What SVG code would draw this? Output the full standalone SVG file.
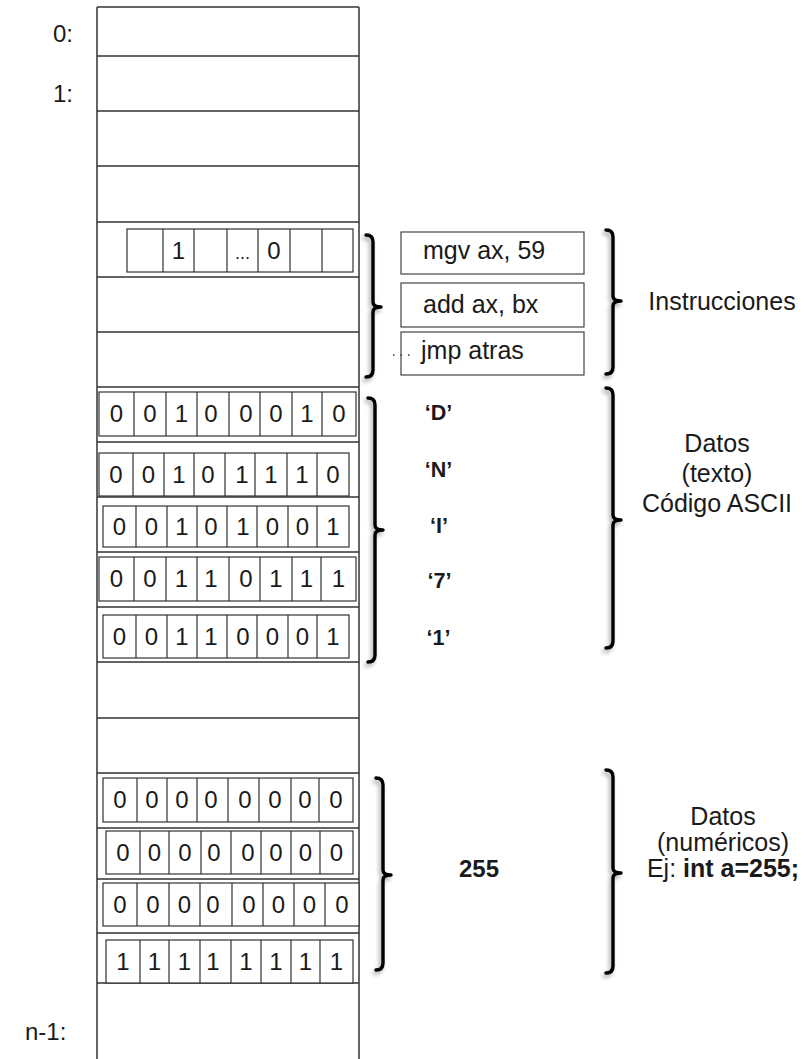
<svg xmlns="http://www.w3.org/2000/svg" width="804" height="1059" viewBox="0 0 804 1059">
<defs>
<style>
.col{stroke:#333;stroke-width:1.5;fill:none}
.cell{stroke:#333;stroke-width:1.2;fill:#fff}
.ibox{stroke:#444;stroke-width:1.2;fill:#fff}
.t{font-family:"Liberation Sans",Arial,Helvetica,sans-serif;fill:#1a1a1a}
.d{font-size:24px;text-anchor:middle}
.lbl{font-size:25px;text-anchor:middle}
.adr{font-size:24px;text-anchor:end}
.q{font-size:21.5px;font-weight:bold;text-anchor:middle}
.br{stroke:#000;stroke-width:3.4;fill:none;stroke-linecap:round;stroke-linejoin:round;filter:url(#sh)}
</style>
<filter id="sh" x="-100%" y="-10%" width="300%" height="120%">
<feDropShadow dx="-2" dy="3" stdDeviation="2" flood-color="#000" flood-opacity="0.35"/>
</filter>
</defs>
<rect width="804" height="1059" fill="#fff"/>

<g id="memory-column">
<line class="col" x1="97" y1="7" x2="359" y2="7"/>
<line class="col" x1="97" y1="7" x2="97" y2="1059"/>
<line class="col" x1="359" y1="7" x2="359" y2="1059"/>
<path class="col" d="M97,56H359M97,111H359M97,166H359M97,222H359M97,277H359M97,332H359M97,387H359M97,442H359M97,497H359M97,552H359M97,607H359M97,662H359M97,718H359M97,773H359M97,828H359M97,879H359M97,933H359M97,983H359"/>
</g>

<g id="addresses" class="t">
<text class="adr" x="73" y="42">0:</text>
<text class="adr" x="73" y="102">1:</text>
<text x="25" y="1040" style="font-size:24px">n-1:</text>
</g>

<g id="instr-bits">
<rect class="cell" x="127" y="229" width="226" height="43"/>
<path class="cell" d="M163,229V272M194,229V272M227,229V272M258,229V272M290,229V272M322,229V272"/>
<g class="t d"><text x="178.5" y="259">1</text><text x="242.5" y="259" style="font-size:18px">...</text><text x="274" y="259">0</text></g>
</g>

<g id="instr-mov">
<rect class="ibox" x="401" y="232" width="183" height="42"/>
<text class="t" x="423" y="259" style="font-size:25px">mgv ax, 59</text>
</g>
<g id="instr-add">
<rect class="ibox" x="401" y="283" width="183" height="44"/>
<text class="t" x="423" y="313" style="font-size:25px">add ax, bx</text>
</g>
<g id="instr-jmp">
<rect class="ibox" x="401" y="332" width="183" height="43"/>
<line x1="393" y1="355" x2="412" y2="355" stroke="#333" stroke-width="1.5" stroke-dasharray="1.5 6"/>
<text class="t" x="421" y="359" style="font-size:25px">jmp atras</text>
</g>

<g id="row-D">
<rect class="cell" x="99" y="392" width="257" height="44"/>
<path class="cell" d="M134,392V436M166,392V436M197,392V436M229,392V436M260,392V436M292,392V436M322,392V436"/>
<g class="t d"><text x="116.5" y="422">0</text><text x="150" y="422">0</text><text x="181.5" y="422">1</text><text x="211" y="422">0</text><text x="246" y="422">0</text><text x="276" y="422">0</text><text x="307" y="422">1</text><text x="339" y="422">0</text></g>
</g>
<g id="row-N">
<rect class="cell" x="99" y="453" width="250" height="43"/>
<path class="cell" d="M133,453V496M164,453V496M194,453V496M225,453V496M255,453V496M287,453V496M317,453V496"/>
<g class="t d"><text x="116" y="483">0</text><text x="148.5" y="483">0</text><text x="179" y="483">1</text><text x="208" y="483">0</text><text x="242" y="483">1</text><text x="271" y="483">1</text><text x="302" y="483">1</text><text x="333" y="483">0</text></g>
</g>
<g id="row-I">
<rect class="cell" x="103" y="506" width="246" height="41"/>
<path class="cell" d="M136,506V547M167,506V547M197,506V547M227,506V547M257,506V547M288,506V547M317,506V547"/>
<g class="t d"><text x="119.5" y="535">0</text><text x="151.5" y="535">0</text><text x="182" y="535">1</text><text x="211" y="535">0</text><text x="243" y="535">1</text><text x="272.5" y="535">0</text><text x="302.5" y="535">0</text><text x="333" y="535">1</text></g>
</g>
<g id="row-7">
<rect class="cell" x="99" y="557" width="257" height="44"/>
<path class="cell" d="M134,557V601M166,557V601M197,557V601M229,557V601M260,557V601M292,557V601M321,557V601"/>
<g class="t d"><text x="116.5" y="587">0</text><text x="150" y="587">0</text><text x="181.5" y="587">1</text><text x="211" y="587">1</text><text x="246" y="587">0</text><text x="276" y="587">1</text><text x="306.5" y="587">1</text><text x="338.5" y="587">1</text></g>
</g>
<g id="row-1">
<rect class="cell" x="103" y="615" width="246" height="43"/>
<path class="cell" d="M136,615V658M167,615V658M197,615V658M227,615V658M257,615V658M288,615V658M317,615V658"/>
<g class="t d"><text x="119.5" y="645">0</text><text x="151.5" y="645">0</text><text x="182" y="645">1</text><text x="211" y="645">1</text><text x="243" y="645">0</text><text x="272.5" y="645">0</text><text x="302.5" y="645">0</text><text x="333" y="645">1</text></g>
</g>

<g id="row-a">
<rect class="cell" x="103" y="778" width="250" height="44"/>
<path class="cell" d="M137,778V822M167,778V822M197,778V822M228,778V822M259,778V822M291,778V822M319,778V822"/>
<g class="t d"><text x="120" y="808">0</text><text x="152" y="808">0</text><text x="182" y="808">0</text><text x="211" y="808">0</text><text x="245" y="808">0</text><text x="275" y="808">0</text><text x="305" y="808">0</text><text x="336" y="808">0</text></g>
</g>
<g id="row-b">
<rect class="cell" x="106" y="831" width="247" height="43"/>
<path class="cell" d="M140,831V874M169,831V874M201,831V874M231,831V874M261,831V874M291,831V874M320,831V874"/>
<g class="t d"><text x="123" y="861">0</text><text x="154.5" y="861">0</text><text x="185" y="861">0</text><text x="214" y="861">0</text><text x="248" y="861">0</text><text x="276" y="861">0</text><text x="305.5" y="861">0</text><text x="336.5" y="861">0</text></g>
</g>
<g id="row-c">
<rect class="cell" x="103" y="883" width="256" height="43"/>
<path class="cell" d="M137,883V926M169,883V926M200,883V926M232,883V926M263,883V926M294,883V926M325,883V926"/>
<g class="t d"><text x="120" y="913">0</text><text x="153" y="913">0</text><text x="184.5" y="913">0</text><text x="213" y="913">0</text><text x="249" y="913">0</text><text x="278.5" y="913">0</text><text x="309.5" y="913">0</text><text x="342" y="913">0</text></g>
</g>
<g id="row-d">
<rect class="cell" x="106" y="940" width="247" height="43"/>
<path class="cell" d="M140,940V983M169,940V983M200,940V983M231,940V983M261,940V983M291,940V983M320,940V983"/>
<g class="t d"><text x="123" y="970">1</text><text x="154.5" y="970">1</text><text x="184.5" y="970">1</text><text x="213" y="970">1</text><text x="246" y="970">1</text><text x="276" y="970">1</text><text x="305.5" y="970">1</text><text x="336.5" y="970">1</text></g>
</g>

<g id="chars" class="t q">
<text x="438.5" y="420">‘D’</text>
<text x="438.5" y="477">‘N’</text>
<text x="439" y="533">‘I’</text>
<text x="439.5" y="588">‘7’</text>
<text x="438.5" y="645">‘1’</text>
</g>

<g id="value-255"><text class="t" x="479" y="877" style="font-size:24px;font-weight:bold;text-anchor:middle">255</text></g>

<g id="label-instrucciones"><text class="t lbl" x="722" y="310">Instrucciones</text></g>
<g id="label-texto" class="t lbl">
<text x="717" y="452">Datos</text>
<text x="717" y="482">(texto)</text>
<text x="717" y="512">Código ASCII</text>
</g>
<g id="label-numericos" class="t lbl">
<text x="723" y="825">Datos</text>
<text x="723" y="851">(numéricos)</text>
<text x="723" y="877">Ej: <tspan font-weight="bold">int a=255;</tspan></text>
</g>

<g id="connectors">
<path class="br" d="M366,235 Q373,235 373,242 V302 Q373,307 381,307 Q373,307 373,312 V370 Q373,377 366,377"/>
<path class="br" d="M606,230 Q613,230 613,237 V296 Q613,301 621,301 Q613,301 613,306 V367 Q613,374 606,374"/>
<path class="br" d="M368,398 Q375,398 375,405 V525 Q375,530 383,530 Q375,530 375,535 V655 Q375,662 368,662"/>
<path class="br" d="M606,388 Q613,388 613,395 V515 Q613,520 621,520 Q613,520 613,525 V641 Q613,648 606,648"/>
<path class="br" d="M376,778 Q383,778 383,785 V870 Q383,875 391,875 Q383,875 383,880 V963 Q383,970 376,970"/>
<path class="br" d="M606,770 Q613,770 613,777 V868 Q613,873 621,873 Q613,873 613,878 V966 Q613,973 606,973"/>
</g>
</svg>
